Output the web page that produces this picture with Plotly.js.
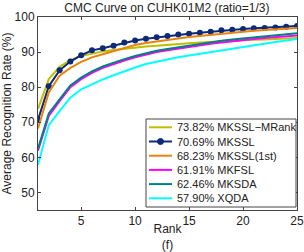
<!DOCTYPE html>
<html>
<head>
<meta charset="utf-8">
<script src="https://cdn.plot.ly/plotly-3.0.1.min.js"></script>
<style>html,body{margin:0;padding:0;background:#fff;}#chart{width:304px;height:252px;}</style>
</head>
<body>
<div id="chart"></div>
<script>
const ranks = [1,2,3,4,5,6,7,8,9,10,11,12,13,14,15,16,17,18,19,20,21,22,23,24,25];
const seriesNames = ["73.82% MKSSL\u2212MRank","70.69% MKSSL","68.23% MKSSL(1st)","61.91% MKFSL","62.46% MKSDA","57.90% XQDA"];
const mkssl_mrank = [73.82,82.3,85.8,87.7,88.9,89.6,90.2,90.6,91.0,91.4,91.6,91.8,92.1,92.3,92.5,92.7,92.9,93.1,93.3,93.4,93.5,93.6,93.8,93.9,94.0];
const mkssl = [70.69,80.3,84.8,87.3,89.1,90.5,91.1,91.8,92.7,93.3,93.8,94.2,94.6,95.0,95.2,95.5,95.8,96.2,96.4,96.6,96.8,96.9,97.0,97.2,97.4];
const mkssl_1st = [68.23,78.5,83.3,85.5,87.2,88.5,89.4,90.3,91.1,92.0,92.6,93.1,93.5,93.9,94.3,94.6,95.0,95.4,95.7,95.9,96.1,96.3,96.5,96.7,96.9];
const mkfsl = [61.91,71.8,76.0,80.0,82.3,84.1,85.5,86.6,87.6,88.5,89.3,90.0,90.5,91.0,91.5,92.0,92.4,92.7,93.1,93.4,93.7,94.0,94.3,94.5,94.7];
const mksda = [62.46,72.5,76.5,80.5,82.7,84.5,85.9,87.0,88.0,88.9,89.7,90.4,90.9,91.4,91.9,92.4,92.9,93.2,93.6,93.9,94.3,94.6,94.9,95.1,95.4];
const xqda = [57.90,69.2,73.2,77.0,79.4,80.9,82.2,83.4,84.6,85.6,86.6,87.3,87.9,88.5,89.0,89.5,90.1,90.6,91.1,91.6,92.0,92.5,92.9,93.3,93.7];
const xTicks = [5,10,15,20,25];
const yTicks = [50,60,70,80,90,100];

const values = [mkssl_mrank, mkssl, mkssl_1st, mkfsl, mksda, xqda];
const colors = ["#bfbf00","#0c2a78","#e8830e","#ff00ff","#008080","#00ffff"];
const traces = values.map((v,i)=>({
  x: ranks, y: v, name: seriesNames[i], type:"scatter",
  mode: i===1 ? "lines+markers" : "lines",
  line:{color:colors[i], width:2},
  marker:{color:colors[i], size:6},
  showlegend:false
}));

const W = 304, H = 252;
const M = {l:38, r:7, t:17, b:42};
const pw = W - M.l - M.r, ph = H - M.t - M.b;
const px = v => (v - M.l) / pw;
const py = v => (H - M.b - v) / ph;

// custom legend (compact rows like the original)
const leg = {left:146, right:296, top:119, bottom:207, row0:127.3, step:14.2, s0:149, s1:172, tx:175};
const shapes = [{type:"rect", xref:"paper", yref:"paper",
  x0:px(leg.left), x1:px(leg.right), y0:py(leg.bottom), y1:py(leg.top),
  line:{color:"#444", width:1}, fillcolor:"#fff", layer:"above"}];
const annotations = [];
seriesNames.forEach((n,i)=>{
  const yc = leg.row0 + i*leg.step;
  shapes.push({type:"line", xref:"paper", yref:"paper", x0:px(leg.s0), x1:px(leg.s1), y0:py(yc), y1:py(yc),
    line:{color:colors[i], width:2}, layer:"above"});
  if (i===1) {
    const c = (leg.s0+leg.s1)/2;
    shapes.push({type:"circle", xref:"paper", yref:"paper", x0:px(c-3), x1:px(c+3), y0:py(yc+3), y1:py(yc-3),
      line:{color:colors[i], width:1}, fillcolor:colors[i], layer:"above"});
  }
  annotations.push({xref:"paper", yref:"paper", x:px(leg.tx), y:py(yc), xanchor:"left", yanchor:"middle",
    text:n, showarrow:false, font:{size:11, color:"#222"}});
});

const font = "Liberation Sans, Arial, Helvetica, sans-serif";
const axisCommon = {
  showgrid:false, zeroline:false, showline:true, mirror:"ticks",
  linecolor:"#444", linewidth:1, ticks:"inside", ticklen:3, tickcolor:"#444",
  tickfont:{size:12, color:"#222", family:font}
};
const layout = {
  width:W, height:H,
  margin:M,
  paper_bgcolor:"#fff", plot_bgcolor:"#fff",
  font:{family:font, color:"#222"},
  title:{text:"CMC Curve on CUHK01M2 (ratio=1/3)", font:{size:12, family:font, color:"#222"}, x:0.549, xanchor:"center", y:0.985, yanchor:"top"},
  xaxis: Object.assign({}, axisCommon, {range:[1,25], tickvals:xTicks,
    title:{text:"Rank<br>(f)", font:{size:12, family:font}, standoff:2}}),
  yaxis: Object.assign({}, axisCommon, {range:[45,100], tickvals:yTicks,
    title:{text:"Average Recognition Rate (%)", font:{size:12, family:font}, standoff:2}}),
  shapes: shapes,
  annotations: annotations,
  showlegend:false
};
Plotly.newPlot("chart", traces, layout, {displayModeBar:false, staticPlot:true});
</script>
</body>
</html>
